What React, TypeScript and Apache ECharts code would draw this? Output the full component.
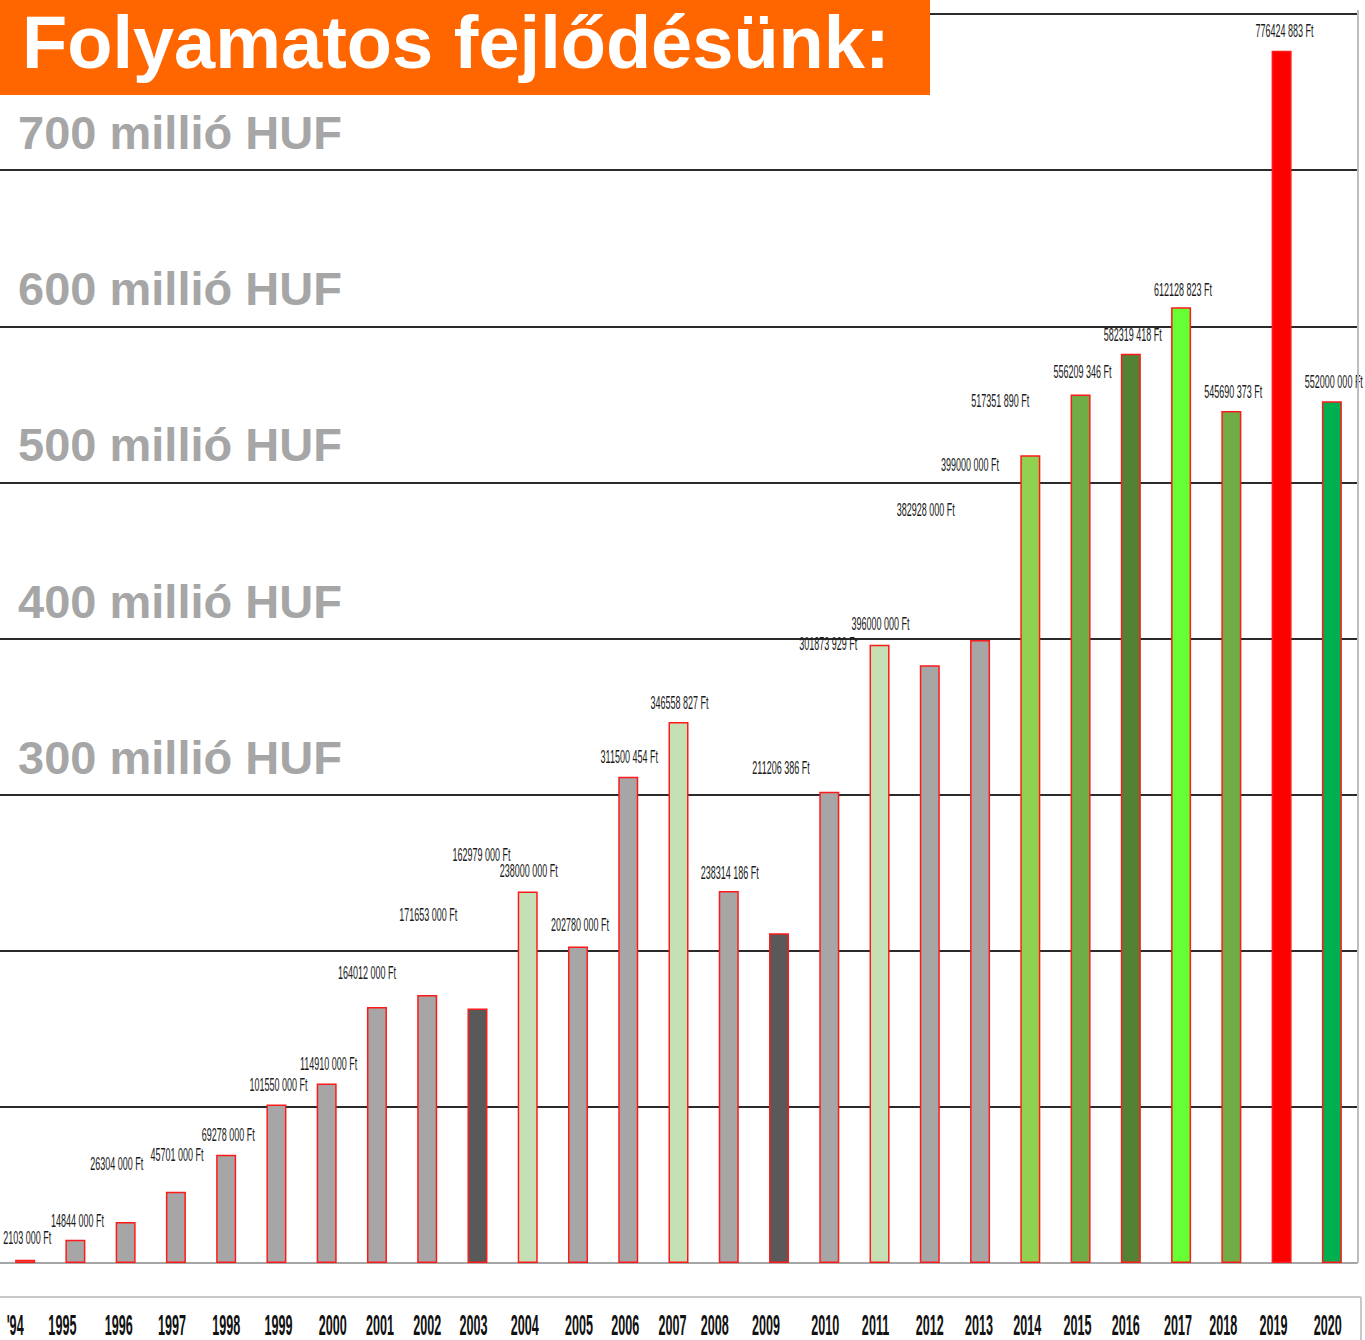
import React, { useEffect, useRef } from "react";
import * as echarts from "echarts";

const years = ["'94", "1995", "1996", "1997", "1998", "1999", "2000", "2001", "2002", "2003", "2004", "2005", "2006", "2007", "2008", "2009", "2010", "2011", "2012", "2013", "2014", "2015", "2016", "2017", "2018", "2019", "2020"];

const values = [2103000, 14844000, 26304000, 45701000, 69278000, 101550000, 114910000, 164012000, 171653000, 162979000, 238000000, 202780000, 311500454, 346558827, 238314186, 211206386, 301873929, 396000000, 382928000, 399000000, 517351890, 556209346, 582319418, 612128823, 545690373, 776424883, 552000000];

const GRAY = "#a6a6a6";
const DARK = "#595959";
const LIGHTG = "#c5e0b4";
const barColors = [GRAY, GRAY, GRAY, GRAY, GRAY, GRAY, GRAY, GRAY, GRAY, DARK, LIGHTG, GRAY, GRAY, LIGHTG, GRAY, DARK, GRAY, LIGHTG, GRAY, GRAY, "#92d050", "#70ad47", "#548235", "#66ff33", "#70ad47", "#ff0000", "#00b050"];

const yTickMin = 0;
const yTickMax = 800000000;
const yTickStep = 100000000;
const labeledTicks = [300, 400, 500, 600, 700];

// label layout offsets (pixels) relative to bar top / bar center
const labelDx = [2, 2, -9, 1, 2, 2, 2, -10, 1, 4, 1, 2, 1, 1, 1, 2, -1, 1, -4, -10, -30, 2, 2, 2, 2, 3, 2];
const labelDy = [-22, -19, -58, -37, -20, -20, -20, -34, -80, -154, -21, -22, -20, -19, -18, -166, -148, -21, -155, -175, -55, -23, -19, -18, -19, -20, -20];
const yearDx = [-10, -13, -7, -4, 0, 2, 6, 3, 0, -4, -3, 1, -3, -6, -14, -13, -4, -4, 0, -1, -3, -3, -5, -3, -8, -8, -4];

function fmt(v: number): string {
  const head = Math.floor(v / 1000);
  const tail = String(Math.round(v % 1000)).padStart(3, "0");
  return `${head} ${tail} Ft`;
}

export default function App() {
  const ref = useRef<HTMLDivElement>(null);
  useEffect(() => {
    if (!ref.current) return;
    const chart = echarts.init(ref.current, undefined, { renderer: "svg" });
    const splitColors = ["#a6a6a6"];
    for (let i = 0; i < 8; i++) splitColors.push("#2b2b2b");
    chart.setOption({
      animation: false,
      backgroundColor: "#ffffff",
      grid: { left: -3, right: 8, top: 10, bottom: 77, containLabel: false },
      xAxis: {
        type: "category",
        data: years,
        boundaryGap: true,
        axisLine: { show: true, lineStyle: { color: "#a6a6a6", width: 2 } },
        axisTick: { show: false },
        axisLabel: { show: false },
      },
      yAxis: {
        type: "value",
        min: yTickMin,
        max: yTickMax,
        interval: yTickStep,
        axisLine: { show: false },
        axisTick: { show: false },
        splitLine: { show: true, lineStyle: { color: splitColors, width: 2 } },
        axisLabel: {
          inside: true,
          margin: 18,
          verticalAlign: "bottom",
          padding: [0, 0, 14, 0],
          color: "#a6a6a6",
          fontFamily: "Liberation Sans, Arial, sans-serif",
          fontWeight: "bold",
          fontSize: 47,
          lineHeight: 47,
          formatter: (v: number) => {
            const m = Math.round(v / 1000000);
            return labeledTicks.indexOf(m) >= 0 ? `${m} millió HUF` : "";
          },
        },
        z: 1,
      },
      series: [
        {
          type: "bar",
          barWidth: 20,
          data: values.map((v, i) => ({
            value: v,
            itemStyle: { color: barColors[i], borderColor: "#ff1a1a", borderWidth: 1.5 },
          })),
          z: 2,
        },
        {
          type: "custom",
          clip: false,
          z: 4,
          data: values.map((v, i) => [i, v]),
          renderItem: (params: any, api: any) => {
            const i = api.value(0);
            const v = api.value(1);
            const p = api.coord([i, v]);
            return {
              type: "text",
              x: p[0] + labelDx[i],
              y: p[1] + labelDy[i],
              scaleX: 0.5,
              style: {
                text: fmt(values[i]),
                fill: "#1a1a1a",
                font: '18px "Liberation Sans", Arial, sans-serif',
                align: "center",
                verticalAlign: "middle",
              },
            };
          },
        },
        {
          type: "custom",
          clip: false,
          z: 4,
          data: years.map((y, i) => [i, 0]),
          renderItem: (params: any, api: any) => {
            const i = api.value(0);
            const p = api.coord([i, 0]);
            return {
              type: "text",
              x: p[0] + yearDx[i],
              y: p[1] + 62,
              scaleX: 0.45,
              scaleY: 1.05,
              style: {
                text: years[i],
                fill: "#111111",
                font: 'bold 28px "Liberation Sans", Arial, sans-serif',
                align: "center",
                verticalAlign: "middle",
              },
            };
          },
        },
      ],
      graphic: [
        { type: "line", shape: { x1: 1358, y1: 10, x2: 1358, y2: 1263 }, style: { stroke: "#bdbdbd", lineWidth: 2 }, z: 5 },
        { type: "line", shape: { x1: 0, y1: 1297, x2: 1361, y2: 1297 }, style: { stroke: "#c8c8c8", lineWidth: 2 }, z: 5 },
        { type: "line", shape: { x1: 1361, y1: 1297, x2: 1361, y2: 1340 }, style: { stroke: "#c8c8c8", lineWidth: 2 }, z: 5 },
        { type: "rect", shape: { x: 0, y: 0, width: 930, height: 95 }, style: { fill: "#ff6600" }, z: 10 },
        {
          type: "text",
          x: 22,
          y: 42,
          z: 11,
          style: {
            text: "Folyamatos fejlődésünk:",
            fill: "#ffffff",
            font: 'bold 74px "Liberation Sans", Arial, sans-serif',
            verticalAlign: "middle",
          },
        },
      ],
    });
    return () => chart.dispose();
  }, []);
  return <div ref={ref} style={{ position: "absolute", left: 0, top: 0, width: 1365, height: 1340 }} />;
}
